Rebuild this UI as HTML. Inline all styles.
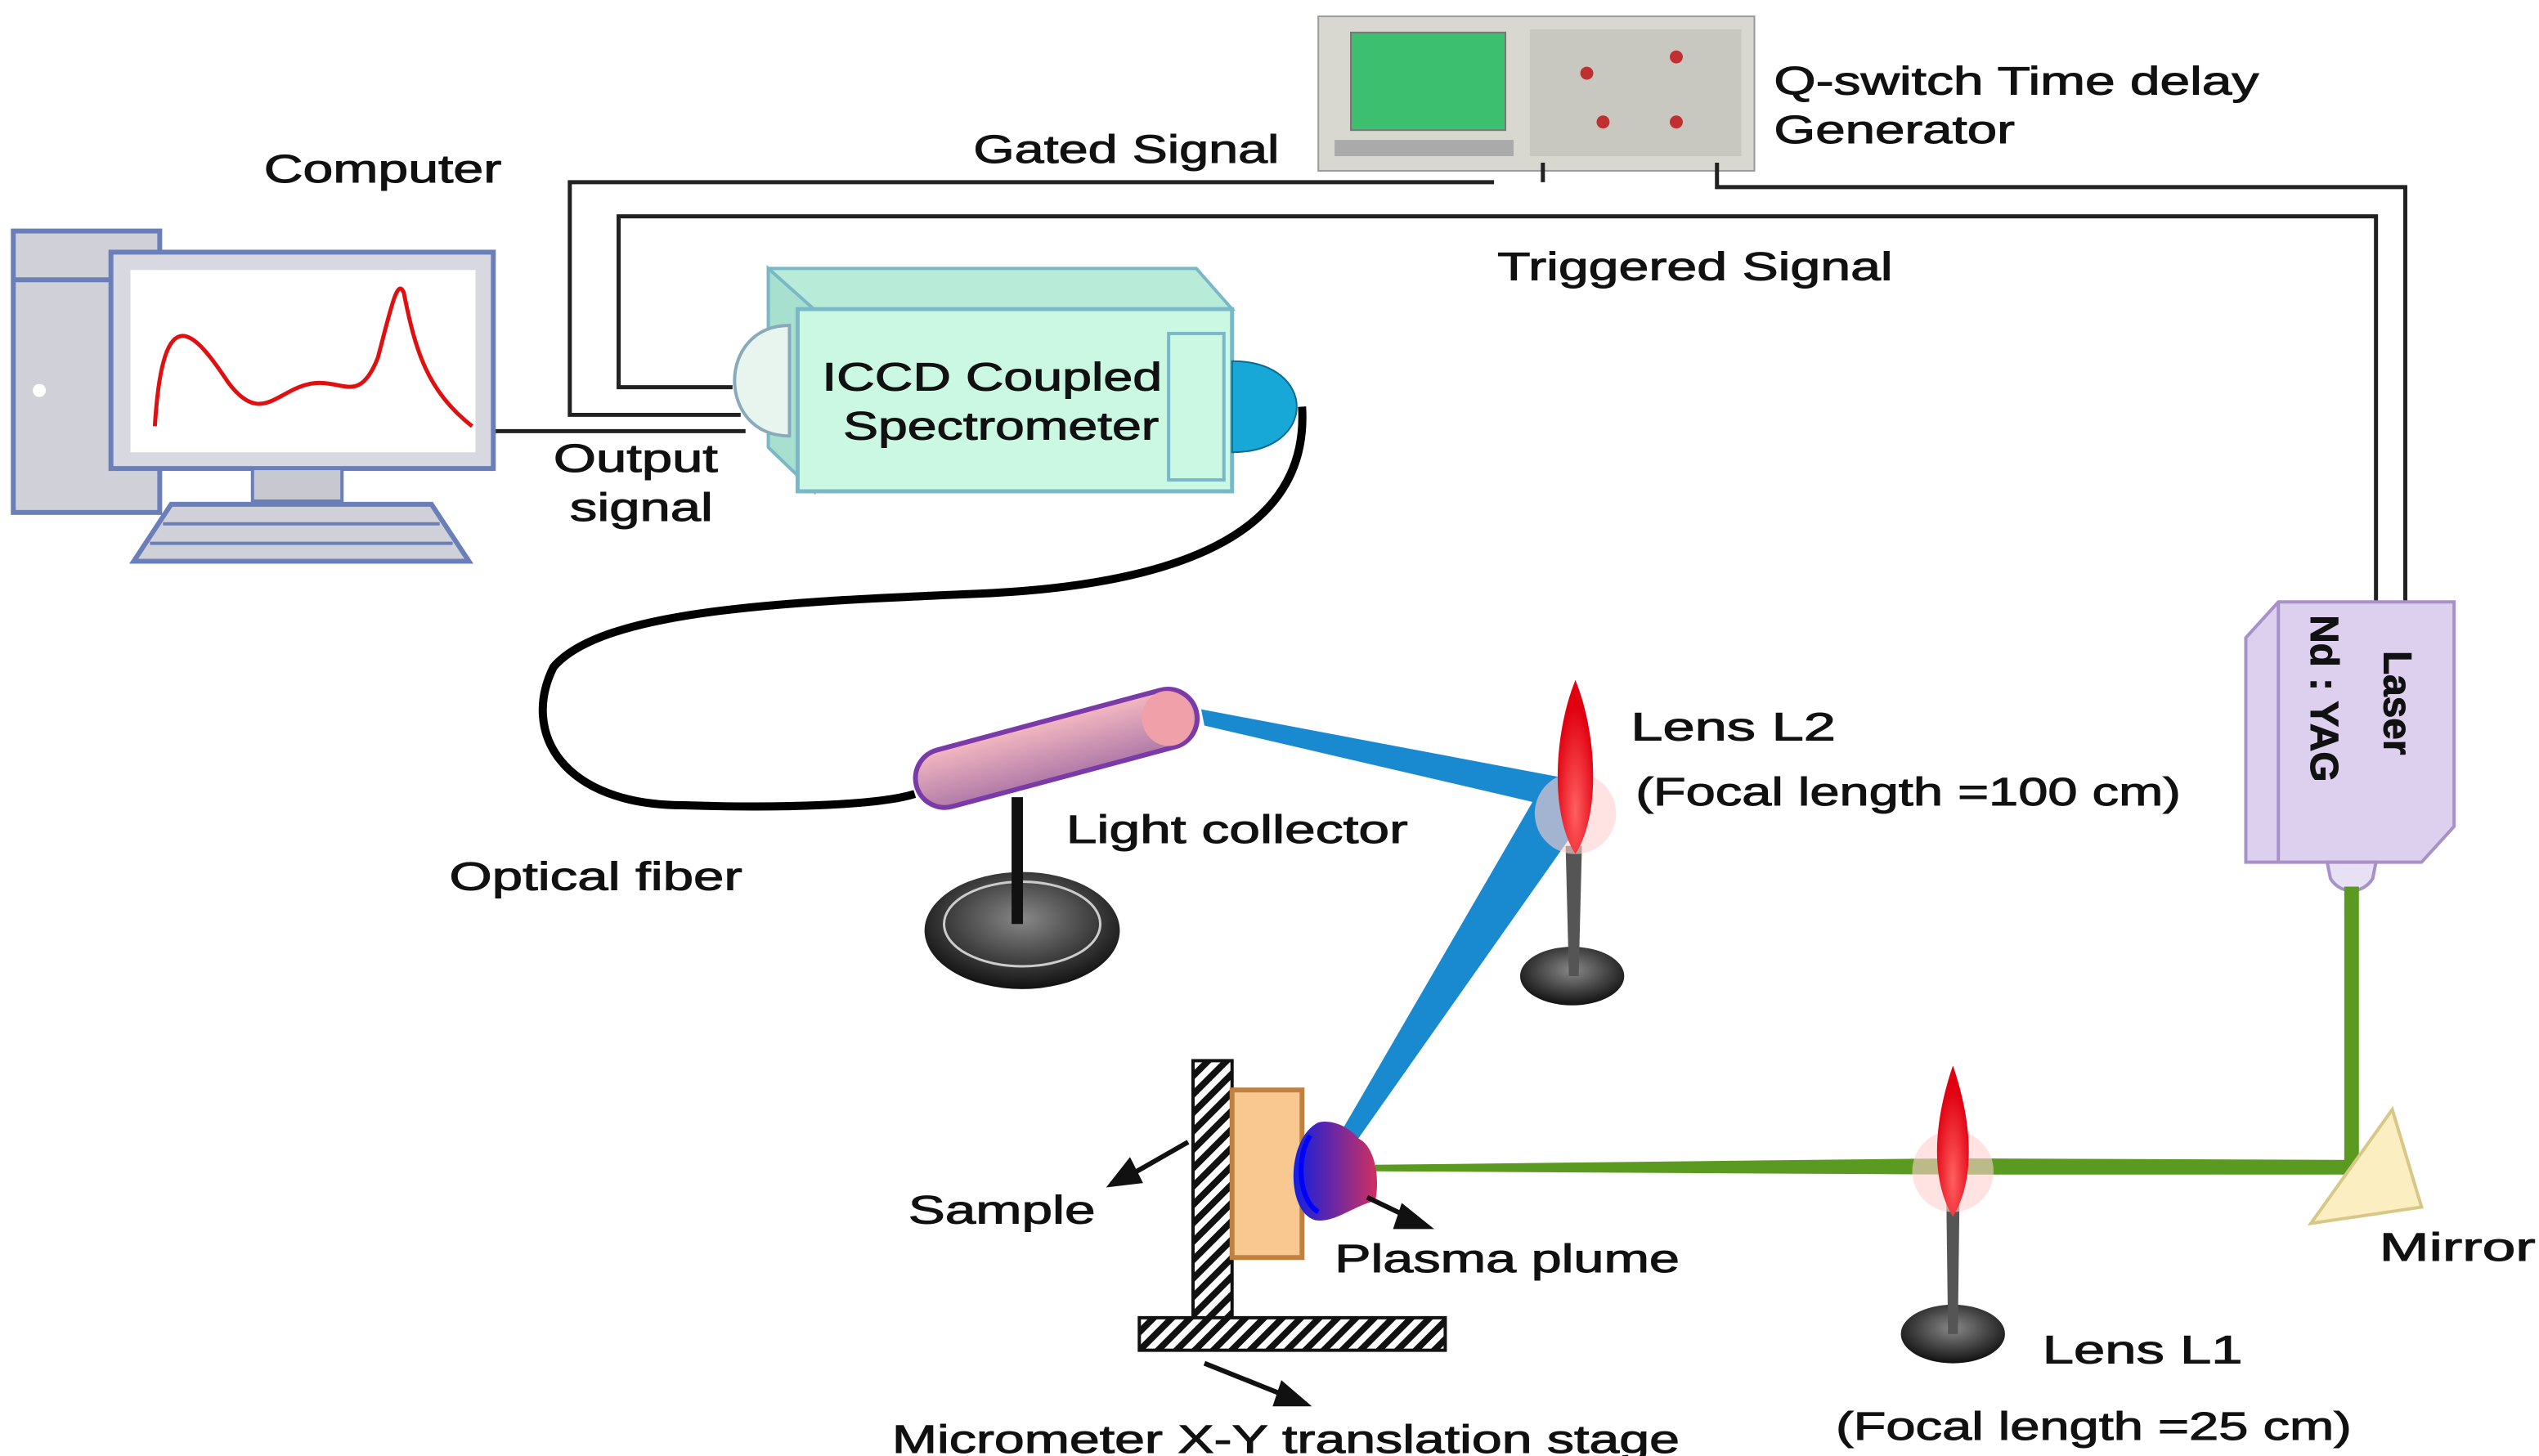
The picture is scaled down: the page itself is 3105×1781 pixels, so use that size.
<!DOCTYPE html>
<html><head><meta charset="utf-8"><style>
html,body{margin:0;padding:0;background:#fff;}
svg{display:block;}
text{font-family:"Liberation Sans",sans-serif;fill:#111;font-size:24px;stroke:#111;stroke-width:0.5;}
</style></head><body>
<svg width="3105" height="1781" viewBox="0 0 1560 895" xmlns="http://www.w3.org/2000/svg">
<defs>
<pattern id="hatch" width="8" height="8" patternUnits="userSpaceOnUse" patternTransform="rotate(45)">
<rect width="8" height="8" fill="#fff"/><rect width="4" height="8" fill="#111"/></pattern>
<linearGradient id="pink" x1="0" y1="0" x2="0" y2="1"><stop offset="0" stop-color="#f4b8c0"/><stop offset="1" stop-color="#b07aa8"/></linearGradient>
<radialGradient id="base" cx="0.5" cy="0.4" r="0.6"><stop offset="0" stop-color="#888"/><stop offset="1" stop-color="#111"/></radialGradient>
<radialGradient id="flame" cx="0.5" cy="0.75" r="0.6"><stop offset="0" stop-color="#ff6060"/><stop offset="1" stop-color="#e00010"/></radialGradient>
<linearGradient id="plume" x1="0" y1="0" x2="1" y2="0"><stop offset="0" stop-color="#1020e0"/><stop offset="1" stop-color="#d03060"/></linearGradient>
</defs>

<!-- oscilloscope -->
<rect x="810" y="10" width="268" height="95" fill="#d8d8d0" stroke="#999"/>
<rect x="830" y="20" width="95" height="60" fill="#3cc070" stroke="#777"/>
<rect x="940" y="18" width="130" height="78" fill="#c8c8c0"/>
<g fill="#c03030"><circle cx="975" cy="45" r="4"/><circle cx="1030" cy="35" r="4"/><circle cx="985" cy="75" r="4"/><circle cx="1030" cy="75" r="4"/></g>
<rect x="820" y="86" width="110" height="10" fill="#aaa"/>
<text x="1090" y="58" textLength="298" lengthAdjust="spacingAndGlyphs">Q-switch Time delay</text>
<text x="1090" y="88" textLength="148" lengthAdjust="spacingAndGlyphs">Generator</text>
<text x="598" y="100" textLength="188" lengthAdjust="spacingAndGlyphs">Gated Signal</text>
<text x="162" y="112" textLength="146" lengthAdjust="spacingAndGlyphs">Computer</text>
<text x="920" y="172" textLength="243" lengthAdjust="spacingAndGlyphs">Triggered Signal</text>

<!-- wires -->
<g fill="none" stroke="#222" stroke-width="2.5">
<polyline points="918,112 350,112 350,255 455,255"/>
<polyline points="450,238 380,238 380,133 1460,133 1460,372"/>
<polyline points="1055,100 1055,115 1478,115 1478,372"/>
<polyline points="948,100 948,112"/>
<line x1="303" y1="265" x2="458" y2="265"/>
</g>

<!-- computer -->
<rect x="8" y="142" width="90" height="173" fill="#d0d0d8" stroke="#6a7fb8" stroke-width="3"/>
<line x1="8" y1="172" x2="98" y2="172" stroke="#6a7fb8" stroke-width="3"/>
<circle cx="24" cy="240" r="4" fill="#fff"/>
<rect x="68" y="155" width="235" height="133" fill="#d8d8e0" stroke="#6a7fb8" stroke-width="3"/>
<rect x="80" y="166" width="212" height="112" fill="#fff"/>
<path d="M95,262 C100,180 120,205 140,235 C160,262 170,240 190,236 C210,232 220,250 232,220 C240,190 244,170 248,180 C255,215 262,240 290,262" fill="none" stroke="#e01010" stroke-width="2.5"/>
<rect x="155" y="288" width="55" height="20" fill="#c8c8d0" stroke="#6a7fb8" stroke-width="2"/>
<polygon points="105,310 265,310 288,345 82,345" fill="#d0d0d8" stroke="#6a7fb8" stroke-width="3"/>
<g stroke="#6a7fb8" stroke-width="2"><line x1="100" y1="322" x2="270" y2="322"/><line x1="92" y1="334" x2="278" y2="334"/></g>
<text x="340" y="290" textLength="101" lengthAdjust="spacingAndGlyphs">Output</text>
<text x="350" y="320" textLength="88" lengthAdjust="spacingAndGlyphs">signal</text>

<!-- ICCD -->
<polygon points="472,165 735,165 757,190 472,190" fill="#b8ecd8" stroke="#7ab8c8" stroke-width="2"/>
<polygon points="472,165 500,190 500,302 472,275" fill="#a8e0d0" stroke="#7ab8c8" stroke-width="2"/>
<rect x="490" y="190" width="267" height="112" fill="#cbf8e3" stroke="#7ab8c8" stroke-width="2.5"/>
<path d="M485,200 C440,200 440,268 485,268 Z" fill="#e8f4ee" stroke="#8ab" stroke-width="2"/>
<rect x="718" y="205" width="34" height="90" fill="#cbf8e3" stroke="#7ab8c8" stroke-width="2"/>
<path d="M757,222 C810,222 810,278 757,278 Z" fill="#18a8d8" stroke="#0a6a90"/>
<text x="505" y="240" textLength="209" lengthAdjust="spacingAndGlyphs">ICCD Coupled</text>
<text x="518" y="270" textLength="194" lengthAdjust="spacingAndGlyphs">Spectrometer</text>

<!-- fiber -->
<path d="M800,250 C805,330 720,360 600,365 C480,370 370,375 340,410 C320,450 345,495 420,495 C480,497 540,495 562,488" fill="none" stroke="#000" stroke-width="5"/>
<text x="276" y="547" textLength="180" lengthAdjust="spacingAndGlyphs">Optical fiber</text>

<!-- light collector -->
<ellipse cx="628" cy="572" rx="60" ry="36" fill="url(#base)"/>
<ellipse cx="628" cy="568" rx="48" ry="26" fill="none" stroke="#ccc" stroke-width="1.5"/>
<line x1="625" y1="490" x2="625" y2="568" stroke="#111" stroke-width="7"/>
<g transform="rotate(-15 649 460)">
<rect x="560" y="442" width="178" height="36" rx="18" fill="url(#pink)" stroke="#7a3aa8" stroke-width="3"/>
<ellipse cx="720" cy="460" rx="16" ry="17" fill="#f0a0a8"/>
</g>
<text x="655" y="518" textLength="210" lengthAdjust="spacingAndGlyphs">Light collector</text>

<!-- blue beams -->
<polygon points="738,436 740,446 972,500 960,478" fill="#1a8ad0"/>
<polygon points="948,482 978,496 826,712 818,706" fill="#1a8ad0"/>

<!-- lens L2 -->
<ellipse cx="966" cy="600" rx="32" ry="18" fill="url(#base)"/>
<polygon points="962,520 972,520 970,600 964,600" fill="#555"/>
<circle cx="968" cy="500" r="25" fill="#ffd0d0" opacity="0.6"/>
<path d="M968,418 C955,450 952,500 968,525 C984,500 981,450 968,418 Z" fill="url(#flame)"/>
<text x="1002" y="455" font-size="27" textLength="126" lengthAdjust="spacingAndGlyphs">Lens L2</text>
<text x="1005" y="495" textLength="335" lengthAdjust="spacingAndGlyphs">(Focal length =100 cm)</text>

<!-- laser -->
<polygon points="1380,392 1400,370 1508,370 1508,508 1488,530 1380,530" fill="#dcd0ee" stroke="#a890c8" stroke-width="2"/>
<line x1="1400" y1="370" x2="1400" y2="530" stroke="#a890c8" stroke-width="2"/>
<path d="M1430,530 L1460,530 L1458,540 C1452,550 1438,550 1432,540 Z" fill="#e8e0f4" stroke="#a890c8" stroke-width="2"/>
<text transform="translate(1465,400) rotate(90)" font-size="26" font-weight="bold">Laser</text>
<text transform="translate(1420,378) rotate(90)" font-size="26" font-weight="bold">Nd : YAG</text>

<!-- green beam -->
<line x1="1445" y1="545" x2="1445" y2="720" stroke="#5a9a20" stroke-width="9"/>
<polygon points="1449,713 1449,722 1200,722 845,720 845,716 1200,712" fill="#5a9a20"/>
<polygon points="1420,752 1470,682 1488,742" fill="#fbeec0" stroke="#d8c888" stroke-width="2"/>
<text x="1462" y="775" font-size="27" textLength="96" lengthAdjust="spacingAndGlyphs">Mirror</text>

<!-- lens L1 -->
<ellipse cx="1200" cy="820" rx="32" ry="18" fill="url(#base)"/>
<polygon points="1196,740 1204,740 1203,820 1197,820" fill="#555"/>
<circle cx="1200" cy="720" r="25" fill="#ffd0d0" opacity="0.6"/>
<path d="M1200,655 C1188,690 1186,725 1200,748 C1214,725 1212,690 1200,655 Z" fill="url(#flame)"/>
<text x="1255" y="838" font-size="27" textLength="123" lengthAdjust="spacingAndGlyphs">Lens L1</text>
<text x="1128" y="885" textLength="317" lengthAdjust="spacingAndGlyphs">(Focal length =25 cm)</text>

<!-- sample stage -->
<rect x="733" y="652" width="24" height="160" fill="url(#hatch)" stroke="#111" stroke-width="2"/>
<rect x="700" y="810" width="188" height="20" fill="url(#hatch)" stroke="#111" stroke-width="2"/>
<rect x="757" y="670" width="43" height="103" fill="#f8c890" stroke="#c08040" stroke-width="3"/>
<path d="M810,690 C790,700 790,745 808,750 C820,752 830,742 845,738 C848,725 845,705 835,700 C828,692 818,688 810,690 Z" fill="url(#plume)"/>
<path d="M805,698 C796,712 798,738 810,745" fill="none" stroke="#00f" stroke-width="3"/>
<g stroke="#111" stroke-width="3" fill="#111">
<line x1="730" y1="702" x2="695" y2="722"/><polygon points="683,728 694,714 700,726"/>
<line x1="840" y1="736" x2="865" y2="748"/><polygon points="877,754 862,742 858,754"/>
<line x1="740" y1="838" x2="790" y2="858"/><polygon points="802,863 788,851 784,863"/>
</g>
<text x="558" y="752" font-size="27" textLength="115" lengthAdjust="spacingAndGlyphs">Sample</text>
<text x="820" y="782" font-size="27" textLength="212" lengthAdjust="spacingAndGlyphs">Plasma plume</text>
<text x="548" y="893" textLength="484" lengthAdjust="spacingAndGlyphs">Micrometer X-Y translation stage</text>
</svg>
</body></html>
